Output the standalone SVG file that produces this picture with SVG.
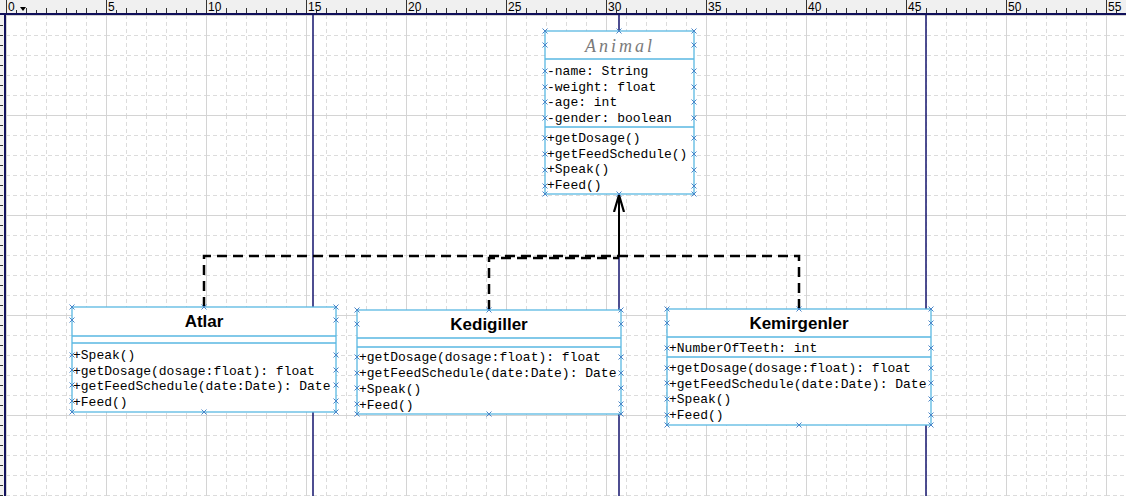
<svg xmlns="http://www.w3.org/2000/svg" xmlns:xlink="http://www.w3.org/1999/xlink" width="1126" height="496" viewBox="0 0 1126 496">
<style>
.box{fill:#fff;stroke:#5ab8e2;stroke-width:1.3}
.sep{stroke:#5ab8e2;stroke-width:1.3}
.mem{font-family:"Liberation Mono","Courier New",monospace;font-size:13px;fill:#000}
.title{font-family:"Liberation Sans",Arial,sans-serif;font-size:17px;font-weight:bold;fill:#000;text-anchor:middle}
.abs{font-family:"Liberation Serif","Times New Roman",serif;font-style:italic;font-size:18px;letter-spacing:3px;fill:#7a7a7a;text-anchor:middle}
.dash{fill:none;stroke:#000;stroke-width:2.5;stroke-dasharray:10 6}
.solid{fill:none;stroke:#000;stroke-width:2}
.page{stroke:#14146e;stroke-width:1.5}
.rnum{font-family:"Liberation Sans",Arial,sans-serif;font-size:12px;fill:#000}
.tick{stroke:#333;stroke-width:1}
</style>
<defs>
<pattern id="grid" patternUnits="userSpaceOnUse" x="6" y="15" width="100" height="100">
<rect width="100" height="100" fill="#fff"/>
<g stroke="#dcdcdc" stroke-width="1" stroke-dasharray="4 3">
<path d="M20.5,0V100M40.5,0V100M60.5,0V100M80.5,0V100"/>
<path d="M0,20.5H100M0,40.5H100M0,60.5H100M0,80.5H100"/>
</g>
<path d="M0.5,0V100M0,0.5H100" stroke="#d4d4d4" stroke-width="1"/>
</pattern>
<path id="x" d="M-2.5,-2.5L2.5,2.5M-2.5,2.5L2.5,-2.5" stroke="#4a86c8" stroke-width="1" fill="none"/>
<marker id="open" viewBox="0 0 18 12" refX="17" refY="6" markerWidth="18" markerHeight="12" markerUnits="userSpaceOnUse" orient="auto">
<path d="M0,1L17,6L0,11" fill="none" stroke="#000" stroke-width="2.2"/>
</marker>
</defs>

<g id="background">
<rect x="0" y="0" width="1126" height="496" fill="#fff"/>
<rect x="6" y="15" width="1120" height="481" fill="url(#grid)"/>
</g>

<g id="rulers">
<rect x="0" y="0" width="1126" height="13" fill="#f0f0f0"/>
<rect x="0" y="0" width="5" height="496" fill="#f0f0f0"/>
<path class="tick" d="M6.5,0V13M106.5,0V13M206.5,0V13M306.5,0V13M406.5,0V13M506.5,0V13M606.5,0V13M706.5,0V13M806.5,0V13M906.5,0V13M1006.5,0V13M1106.5,0V13"/>
<path class="tick" d="M26.5,8V13M46.5,8V13M66.5,8V13M86.5,8V13M126.5,8V13M146.5,8V13M166.5,8V13M186.5,8V13M226.5,8V13M246.5,8V13M266.5,8V13M286.5,8V13M326.5,8V13M346.5,8V13M366.5,8V13M386.5,8V13M426.5,8V13M446.5,8V13M466.5,8V13M486.5,8V13M526.5,8V13M546.5,8V13M566.5,8V13M586.5,8V13M626.5,8V13M646.5,8V13M666.5,8V13M686.5,8V13M726.5,8V13M746.5,8V13M766.5,8V13M786.5,8V13M826.5,8V13M846.5,8V13M866.5,8V13M886.5,8V13M926.5,8V13M946.5,8V13M966.5,8V13M986.5,8V13M1026.5,8V13M1046.5,8V13M1066.5,8V13M1086.5,8V13"/>
<path class="tick" d="M16.5,10V13M36.5,10V13M56.5,10V13M76.5,10V13M96.5,10V13M116.5,10V13M136.5,10V13M156.5,10V13M176.5,10V13M196.5,10V13M216.5,10V13M236.5,10V13M256.5,10V13M276.5,10V13M296.5,10V13M316.5,10V13M336.5,10V13M356.5,10V13M376.5,10V13M396.5,10V13M416.5,10V13M436.5,10V13M456.5,10V13M476.5,10V13M496.5,10V13M516.5,10V13M536.5,10V13M556.5,10V13M576.5,10V13M596.5,10V13M616.5,10V13M636.5,10V13M656.5,10V13M676.5,10V13M696.5,10V13M716.5,10V13M736.5,10V13M756.5,10V13M776.5,10V13M796.5,10V13M816.5,10V13M836.5,10V13M856.5,10V13M876.5,10V13M896.5,10V13M916.5,10V13M936.5,10V13M956.5,10V13M976.5,10V13M996.5,10V13M1016.5,10V13M1036.5,10V13M1056.5,10V13M1076.5,10V13M1096.5,10V13M1116.5,10V13"/>
<g class="rnum">
<text x="8" y="11">0</text><text x="108" y="11">5</text><text x="208" y="11">10</text><text x="308" y="11">15</text>
<text x="408" y="11">20</text><text x="508" y="11">25</text><text x="608" y="11">30</text><text x="708" y="11">35</text>
<text x="808" y="11">40</text><text x="908" y="11">45</text><text x="1008" y="11">50</text><text x="1108" y="11">55</text>
</g>
<path d="M20,7H26L23,11Z" fill="#000"/>
<path class="tick" d="M0,25.5H3M0,35.5H3M0,45.5H3M0,55.5H3M0,65.5H3M0,75.5H3M0,85.5H3M0,95.5H3M0,105.5H3M0,115.5H3M0,125.5H3M0,135.5H3M0,145.5H3M0,155.5H3M0,165.5H3M0,175.5H3M0,185.5H3M0,195.5H3M0,205.5H3M0,215.5H3M0,225.5H3M0,235.5H3M0,245.5H3M0,255.5H3M0,265.5H3M0,275.5H3M0,285.5H3M0,295.5H3M0,305.5H3M0,315.5H3M0,325.5H3M0,335.5H3M0,345.5H3M0,355.5H3M0,365.5H3M0,375.5H3M0,385.5H3M0,395.5H3M0,405.5H3M0,415.5H3M0,425.5H3M0,435.5H3M0,445.5H3M0,455.5H3M0,465.5H3M0,475.5H3M0,485.5H3M0,495.5H3"/>
<path d="M0,14H1126M5,13V496" stroke="#10105a" stroke-width="2" fill="none"/>
</g>

<g id="pages">
<path class="page" d="M313,15V496M619,15V496M926,15V496"/>
</g>

<g id="connectors">
<path class="dash" d="M204,307V256H619"/>
<path class="dash" d="M489,310V258H619"/>
<path class="dash" d="M799,309V256H619"/>
<path class="solid" d="M619,256V195" marker-end="url(#open)"/>
</g>

<g id="Animal">
<rect class="box" x="545" y="31" width="149" height="163"/>
<path class="sep" d="M545,59H694M545,127H694"/>
<text class="abs" x="620" y="52">Animal</text>
<g class="mem">
<text x="547" y="75">-name: String</text>
<text x="547" y="91">-weight: float</text>
<text x="547" y="106">-age: int</text>
<text x="547" y="122">-gender: boolean</text>
<text x="547" y="142">+getDosage()</text>
<text x="547" y="158">+getFeedSchedule()</text>
<text x="547" y="173">+Speak()</text>
<text x="547" y="189">+Feed()</text>
</g>
<g>
<use xlink:href="#x" x="545" y="31"/><use xlink:href="#x" x="619" y="31"/><use xlink:href="#x" x="694" y="31"/>
<use xlink:href="#x" x="545" y="194"/><use xlink:href="#x" x="619" y="194"/><use xlink:href="#x" x="694" y="194"/>
<use xlink:href="#x" x="545" y="45"/><use xlink:href="#x" x="694" y="45"/>
<use xlink:href="#x" x="545" y="71"/><use xlink:href="#x" x="694" y="71"/>
<use xlink:href="#x" x="545" y="87"/><use xlink:href="#x" x="694" y="87"/>
<use xlink:href="#x" x="545" y="102"/><use xlink:href="#x" x="694" y="102"/>
<use xlink:href="#x" x="545" y="118"/><use xlink:href="#x" x="694" y="118"/>
<use xlink:href="#x" x="545" y="138"/><use xlink:href="#x" x="694" y="138"/>
<use xlink:href="#x" x="545" y="154"/><use xlink:href="#x" x="694" y="154"/>
<use xlink:href="#x" x="545" y="170"/><use xlink:href="#x" x="694" y="170"/>
<use xlink:href="#x" x="545" y="186"/><use xlink:href="#x" x="694" y="186"/>
</g>
</g>

<g id="Atlar">
<rect class="box" x="72" y="307" width="264" height="105"/>
<path class="sep" d="M72,336H336M72,343H336"/>
<text class="title" x="204" y="327">Atlar</text>
<g class="mem">
<text x="73" y="359">+Speak()</text>
<text x="73" y="375">+getDosage(dosage:float): float</text>
<text x="73" y="390">+getFeedSchedule(date:Date): Date</text>
<text x="73" y="406">+Feed()</text>
</g>
<g>
<use xlink:href="#x" x="72" y="307"/><use xlink:href="#x" x="204" y="307"/><use xlink:href="#x" x="336" y="307"/>
<use xlink:href="#x" x="72" y="412"/><use xlink:href="#x" x="204" y="412"/><use xlink:href="#x" x="336" y="412"/>
<use xlink:href="#x" x="72" y="320"/><use xlink:href="#x" x="336" y="320"/>
<use xlink:href="#x" x="72" y="355"/><use xlink:href="#x" x="336" y="355"/>
<use xlink:href="#x" x="72" y="370"/><use xlink:href="#x" x="336" y="370"/>
<use xlink:href="#x" x="72" y="385"/><use xlink:href="#x" x="336" y="385"/>
<use xlink:href="#x" x="72" y="401"/><use xlink:href="#x" x="336" y="401"/>
</g>
</g>

<g id="Kedigiller">
<rect class="box" x="357" y="310" width="264" height="104"/>
<path class="sep" d="M357,338H621M357,347H621"/>
<text class="title" x="489" y="330">Kedigiller</text>
<g class="mem">
<text x="359" y="361">+getDosage(dosage:float): float</text>
<text x="359" y="377">+getFeedSchedule(date:Date): Date</text>
<text x="359" y="393">+Speak()</text>
<text x="359" y="409">+Feed()</text>
</g>
<g>
<use xlink:href="#x" x="357" y="310"/><use xlink:href="#x" x="489" y="310"/><use xlink:href="#x" x="621" y="310"/>
<use xlink:href="#x" x="357" y="414"/><use xlink:href="#x" x="489" y="414"/><use xlink:href="#x" x="621" y="414"/>
<use xlink:href="#x" x="357" y="324"/><use xlink:href="#x" x="621" y="324"/>
<use xlink:href="#x" x="357" y="357"/><use xlink:href="#x" x="621" y="357"/>
<use xlink:href="#x" x="357" y="373"/><use xlink:href="#x" x="621" y="373"/>
<use xlink:href="#x" x="357" y="388"/><use xlink:href="#x" x="621" y="388"/>
<use xlink:href="#x" x="357" y="404"/><use xlink:href="#x" x="621" y="404"/>
</g>
</g>

<g id="Kemirgenler">
<rect class="box" x="667" y="309" width="264" height="116"/>
<path class="sep" d="M667,337H931M667,357H931"/>
<text class="title" x="799" y="329">Kemirgenler</text>
<g class="mem">
<text x="669" y="352">+NumberOfTeeth: int</text>
<text x="669" y="372">+getDosage(dosage:float): float</text>
<text x="669" y="388">+getFeedSchedule(date:Date): Date</text>
<text x="669" y="403">+Speak()</text>
<text x="669" y="419">+Feed()</text>
</g>
<g>
<use xlink:href="#x" x="667" y="309"/><use xlink:href="#x" x="799" y="309"/><use xlink:href="#x" x="931" y="309"/>
<use xlink:href="#x" x="667" y="425"/><use xlink:href="#x" x="799" y="425"/><use xlink:href="#x" x="931" y="425"/>
<use xlink:href="#x" x="667" y="323"/><use xlink:href="#x" x="931" y="323"/>
<use xlink:href="#x" x="667" y="348"/><use xlink:href="#x" x="931" y="348"/>
<use xlink:href="#x" x="667" y="368"/><use xlink:href="#x" x="931" y="368"/>
<use xlink:href="#x" x="667" y="383"/><use xlink:href="#x" x="931" y="383"/>
<use xlink:href="#x" x="667" y="399"/><use xlink:href="#x" x="931" y="399"/>
<use xlink:href="#x" x="667" y="415"/><use xlink:href="#x" x="931" y="415"/>
</g>
</g>
</svg>
